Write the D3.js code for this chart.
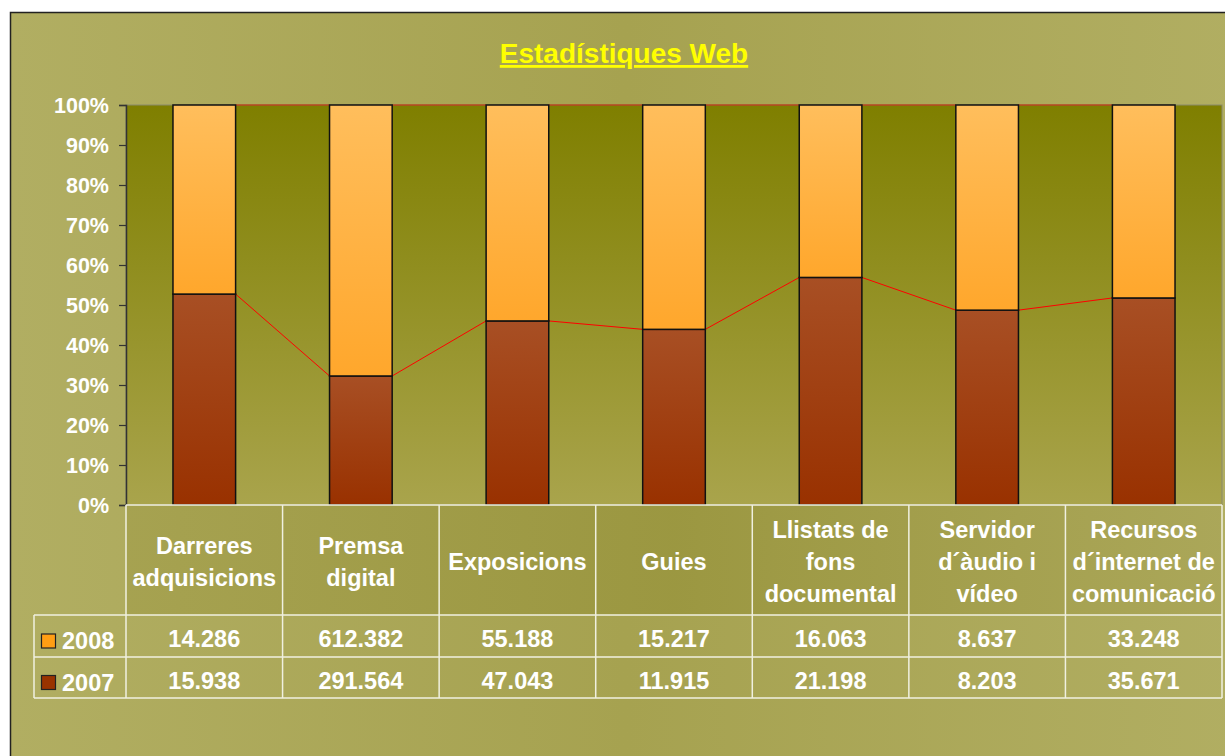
<!DOCTYPE html>
<html><head><meta charset="utf-8">
<script src="https://cdn.jsdelivr.net/npm/d3@7"></script>
<style>body{margin:0;background:#fff;}svg{display:block;font-family:"Liberation Sans",Arial,sans-serif;}</style>
</head><body>
<svg id="c" width="1225" height="756"></svg>
<script>
const categories = [
  ["Darreres","adquisicions"],
  ["Premsa","digital"],
  ["Exposicions"],
  ["Guies"],
  ["Llistats de","fons","documental"],
  ["Servidor","d´àudio i","vídeo"],
  ["Recursos","d´internet de","comunicació"]
];
const values2008 = [14286, 612382, 55188, 15217, 16063, 8637, 33248];
const values2007 = [15938, 291564, 47043, 11915, 21198, 8203, 35671];
const labels2008 = ["14.286","612.382","55.188","15.217","16.063","8.637","33.248"];
const labels2007 = ["15.938","291.564","47.043","11.915","21.198","8.203","35.671"];
const yTicks = [0,0.1,0.2,0.3,0.4,0.5,0.6,0.7,0.8,0.9,1];

const svg = d3.select("#c");
const defs = svg.append("defs");
function lg(id, stops, x1=0,y1=0,x2=0,y2=1){
  const g = defs.append("linearGradient").attr("id",id).attr("x1",x1).attr("y1",y1).attr("x2",x2).attr("y2",y2);
  stops.forEach(s=>g.append("stop").attr("offset",s[0]).attr("stop-color",s[1]));
}
lg("bg",[[0,"#b1ae62"],[0.5,"#a6a250"],[1,"#b1ae62"]],0,0,1,0);
lg("plot",[[0,"#7f7f00"],[1,"#a9a44c"]]);
lg("o8",[[0,"#ffbe5c"],[1,"#ffa72c"]]);
lg("o7",[[0,"#a84f24"],[1,"#993100"]]);
lg("hdr",[[0,"#a5a14f"],[0.5,"#9a963f"],[1,"#aaa658"]],0,0,1,0);

// outer frame
svg.append("rect").attr("x",10.5).attr("y",12.5).attr("width",1230).attr("height",760)
  .attr("fill","url(#bg)").attr("stroke","#222").attr("stroke-width",1.5);

// title
svg.append("text").attr("x",624).attr("y",63).attr("text-anchor","middle")
  .attr("font-size",28).attr("font-weight","bold").attr("fill","#ffff00")
  .attr("text-decoration","underline").text("Estadístiques Web");

const L=126, R=1222, T=105, B=505;
const x = d3.scaleBand().domain(d3.range(categories.length)).range([L,R]).paddingInner(0).paddingOuter(0);
const y = d3.scaleLinear().domain([0,1]).range([B,T]);
const bw = x.bandwidth()*0.4;

svg.append("rect").attr("x",L).attr("y",T).attr("width",R-L).attr("height",B-T).attr("fill","url(#plot)")
  .attr("stroke","#8a8a6a").attr("stroke-width",1);

const share7 = values2007.map((v,i)=>v/(v+values2008[i]));

// series lines
const g = svg.append("g");
for(let i=0;i<categories.length-1;i++){
  const xa = x(i)+x.bandwidth()/2+bw/2, xb = x(i+1)+x.bandwidth()/2-bw/2;
  g.append("line").attr("x1",xa).attr("x2",xb).attr("y1",y(share7[i])).attr("y2",y(share7[i+1]))
    .attr("stroke","#ff0000").attr("stroke-width",1);
  g.append("line").attr("x1",xa).attr("x2",xb).attr("y1",y(1)).attr("y2",y(1))
    .attr("stroke","#cc2200").attr("stroke-width",1.2);
}

// bars
categories.forEach((c,i)=>{
  const bx = x(i)+x.bandwidth()/2-bw/2;
  g.append("rect").attr("x",bx).attr("y",y(share7[i])).attr("width",bw).attr("height",y(0)-y(share7[i]))
    .attr("fill","url(#o7)").attr("stroke","#111").attr("stroke-width",1.5);
  g.append("rect").attr("x",bx).attr("y",y(1)).attr("width",bw).attr("height",y(share7[i])-y(1))
    .attr("fill","url(#o8)").attr("stroke","#111").attr("stroke-width",1.5);
});

// y axis
const ya = svg.append("g").attr("transform",`translate(${L},0)`)
  .call(d3.axisLeft(y).tickValues(yTicks).tickFormat(d3.format(".0%")).tickSize(7).tickPadding(10));
ya.select(".domain").attr("stroke","#333").attr("stroke-width",1.5);
ya.selectAll(".tick line").attr("stroke","#333").attr("stroke-width",1.2);
ya.selectAll("text").attr("fill","#fff").attr("font-size",21.5).attr("font-weight","bold")
  .attr("font-family","Liberation Sans, Arial, sans-serif").attr("dy","0.36em");

// data table
const tb = svg.append("g");
const hT=505, hB=615, r1B=657, r2B=698, legL=34;
const fs=23.5;
tb.append("rect").attr("x",L).attr("y",hT).attr("width",R-L).attr("height",hB-hT).attr("fill","url(#hdr)").attr("opacity",0.9);
const lc="#f0f0e0";
function ln(x1,y1,x2,y2){tb.append("line").attr("x1",x1).attr("y1",y1).attr("x2",x2).attr("y2",y2).attr("stroke",lc).attr("stroke-width",1.5);}
ln(L,hT,R,hT); ln(legL,hB,R,hB); ln(legL,r1B,R,r1B); ln(legL,r2B,R,r2B);
ln(legL,hB,legL,r2B);
for(let i=0;i<=categories.length;i++){ const xx = i<categories.length? x(i): R; ln(xx,hT,xx,r2B); }

categories.forEach((c,i)=>{
  const cx = x(i)+x.bandwidth()/2;
  const lh=32, mid=(hT+hB)/2+2;
  c.forEach((t,k)=>{
    tb.append("text").attr("x",cx).attr("y",mid+(k-(c.length-1)/2)*lh).attr("dy","0.35em")
      .attr("text-anchor","middle").attr("fill","#fff").attr("font-size",fs).attr("font-weight","bold").text(t);
  });
  tb.append("text").attr("x",cx).attr("y",(hB+r1B)/2+3).attr("dy","0.35em").attr("text-anchor","middle")
    .attr("fill","#fff").attr("font-size",fs).attr("font-weight","bold").text(labels2008[i]);
  tb.append("text").attr("x",cx).attr("y",(r1B+r2B)/2+3).attr("dy","0.35em").attr("text-anchor","middle")
    .attr("fill","#fff").attr("font-size",fs).attr("font-weight","bold").text(labels2007[i]);
});
// legend keys
[["2008","#ff9e14",(hB+r1B)/2+5],["2007","#993300",(r1B+r2B)/2+5]].forEach(d=>{
  tb.append("rect").attr("x",41.5).attr("y",d[2]-7).attr("width",14).attr("height",14).attr("fill",d[1]).attr("stroke","#222").attr("stroke-width",1.2);
  tb.append("text").attr("x",62).attr("y",d[2]).attr("dy","0.35em").attr("fill","#fff").attr("font-size",fs).attr("font-weight","bold").text(d[0]);
});
</script>
</body></html>
